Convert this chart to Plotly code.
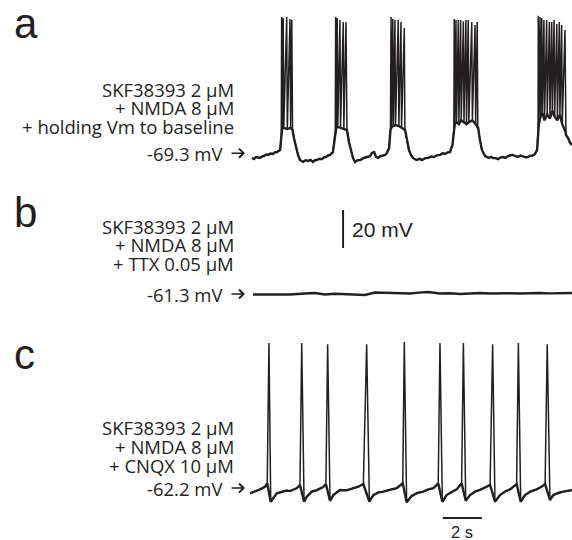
import plotly.graph_objects as go

# ---------------- data (time in s, membrane potential in mV) ----------------
# Panel a: slow membrane trajectory (between / around bursts)
a_slow_t = [0.00, 0.10, 0.21, 0.31, 0.41, 0.52, 0.62, 0.72, 0.82, 0.95, 1.08, 1.18, 1.28, 1.44, 1.50,
            2.08, 2.15, 2.26, 2.36, 2.46, 2.62, 2.75, 2.87, 3.00, 3.13, 3.23, 3.33, 3.46, 3.59, 3.69, 3.79, 3.90, 4.00, 4.15, 4.23, 4.27,
            4.87, 4.97, 5.08, 5.18, 5.28, 5.41, 5.54, 5.64, 5.74, 5.90, 6.05, 6.15, 6.26, 6.36, 6.46, 6.56, 6.67, 6.82, 6.92, 7.03, 7.10,
            7.85, 7.95, 8.05, 8.15, 8.26, 8.36, 8.46, 8.59, 8.72, 8.87, 9.03, 9.18, 9.33, 9.49, 9.64, 9.77, 9.90, 10.03, 10.15, 10.28, 10.35,
            11.59, 11.69, 11.79, 11.95, 12.05, 12.15, 12.26, 12.36, 12.49, 12.62, 12.74, 12.87, 13.00, 13.13, 13.26, 13.38, 13.51, 13.64,
            13.77, 13.90, 14.03, 14.15, 14.26, 14.36, 14.51, 14.62, 14.67,
            16.10, 16.21, 16.31, 16.41]
a_slow_v = [-69.8, -70.4, -69.3, -69.6, -69.8, -69.0, -68.8, -68.0, -68.2, -67.5, -67.7, -66.8, -66.7, -65.6, -60.4,
            -55.1, -59.3, -64.6, -68.2, -70.9, -71.9, -71.0, -71.4, -70.8, -71.9, -71.0, -70.9, -70.2, -70.4, -69.5, -69.3, -68.6, -68.2, -66.7, -60.4, -55.1,
            -55.1, -61.4, -66.7, -69.8, -71.9, -71.0, -70.9, -70.2, -69.8, -69.3, -68.8, -67.2, -66.7, -69.3, -69.8, -69.0, -68.8, -68.2, -67.2, -64.6, -55.1,
            -55.1, -60.4, -65.6, -68.2, -69.8, -70.5, -70.9, -70.2, -70.9, -70.0, -69.8, -69.0, -69.3, -68.4, -68.2, -67.4, -67.7, -66.9, -66.7, -63.0, -55.1,
            -53.5, -60.4, -65.6, -68.8, -69.4, -69.8, -69.2, -69.8, -69.9, -70.4, -69.6, -69.3, -69.8, -68.8, -68.4, -68.2, -68.9, -69.3,
            -68.5, -68.8, -69.5, -69.3, -68.6, -68.8, -67.7, -65.6, -55.1,
            -57.7, -59.3, -61.9, -63.0]
# Panel a: action potentials riding on the plateaus
a_spike_t = [1.52, 1.60, 1.78, 1.95, 2.04,
             4.29, 4.37, 4.51, 4.68, 4.82,
             7.13, 7.22, 7.33, 7.50, 7.64, 7.81,
             10.37, 10.46, 10.58, 10.70, 10.84, 10.97, 11.09, 11.27, 11.44, 11.55,
             14.68, 14.77, 14.86, 14.97, 15.11, 15.25, 15.37, 15.49, 15.63, 15.76, 15.88, 16.05]
a_spike_peak = [4.4, 3.9, 4.4, 3.3, 2.8,
                4.4, 3.9, 2.8, 1.7, 1.7,
                4.4, 3.3, 2.8, 2.8, 1.7, -1.4,
                3.3, 2.8, 2.8, 2.8, 2.2, 2.8, 2.8, 1.7, 0.2, 1.7,
                5.0, 4.4, 3.9, 2.8, 2.8, 1.7, 1.7, 2.8, 0.7, 1.7, 0.2, -2.5]
a_spike_trough = [-54.0, -54.0, -54.5, -54.0, -55.0,
                  -54.0, -53.5, -54.0, -54.5, -55.0,
                  -53.5, -53.0, -52.5, -53.0, -54.0, -55.0,
                  -52.0, -51.0, -52.0, -50.0, -51.0, -52.0, -51.0, -50.0, -52.0, -54.0,
                  -52.0, -48.0, -46.0, -50.0, -47.0, -49.0, -45.0, -48.0, -50.0, -47.0, -52.0, -56.0]

# Panel b: flat trace in TTX
b_t = [0.05, 0.51, 0.92, 1.44, 1.95, 2.33, 2.72, 3.23, 3.74, 4.26, 4.77, 5.28, 5.79, 6.31, 6.69, 7.08,
       7.59, 8.10, 8.56, 9.03, 9.64, 10.15, 10.67, 11.18, 11.69, 12.21, 12.72, 13.23, 13.74, 14.26,
       14.77, 15.28, 15.79, 16.41]
b_v = [-61.56, -61.70, -61.83, -61.60, -61.56, -61.20, -61.04, -60.77, -61.56, -61.20, -61.30, -61.60, -61.83, -60.51, -60.70, -60.51,
       -60.90, -61.04, -60.60, -60.25, -61.04, -60.90, -61.30, -60.90, -60.77, -61.00, -60.77, -60.90, -61.04, -60.80,
       -60.77, -60.95, -61.04, -60.77]

# Panel c: slow trajectory (ramps and AHPs) + single spikes in CNQX
c_slow_t = [-0.10, 0.15, 0.41, 0.67, 0.78,
            0.96, 1.09, 1.27, 1.44, 1.61, 1.78, 1.95, 2.12, 2.29, 2.46,
            2.67, 2.81, 3.06, 3.28, 3.49, 3.65, 3.79,
            4.00, 4.17, 4.51, 4.85, 5.19, 5.45, 5.71,
            6.02, 6.22, 6.48, 6.73, 7.08, 7.42, 7.73,
            7.93, 8.19, 8.48, 8.78, 9.04, 9.30, 9.55,
            9.76, 9.98, 10.24, 10.50, 10.75,
            10.96, 11.18, 11.44, 11.69, 11.95, 12.21,
            12.46, 12.72, 12.98, 13.23, 13.57,
            13.78, 14.00, 14.30, 14.60, 14.82, 15.03,
            15.28, 15.45, 15.70, 15.96, 16.20, 16.46]
c_slow_v = [-64.5, -63.6, -62.4, -61.0, -59.2,
            -68.9, -67.1, -64.5, -64.0, -63.6, -63.0, -63.3, -62.5, -61.8, -60.1,
            -68.9, -66.3, -63.6, -63.0, -61.8, -61.2, -59.6,
            -68.4, -65.4, -62.7, -62.9, -61.8, -61.0, -59.6,
            -68.9, -65.4, -64.0, -63.6, -62.5, -61.8, -59.2,
            -69.2, -65.9, -64.3, -63.6, -62.4, -61.8, -59.2,
            -68.9, -65.4, -63.8, -62.4, -59.2,
            -68.4, -65.4, -63.6, -62.7, -61.6, -60.1,
            -68.9, -65.4, -63.5, -62.4, -59.6,
            -68.9, -65.4, -63.4, -62.4, -61.2, -59.6,
            -68.0, -65.4, -64.3, -63.6, -63.0, -62.7]
c_spike_t = [0.87, 2.55, 3.88, 5.88, 7.81, 9.64, 10.84, 12.34, 13.66, 15.14]
c_spike_peak = [14.6, 14.6, 14.0, 14.0, 15.2, 14.6, 14.6, 14.0, 14.6, 14.0]

labels_a = ["SKF38393 2 \u03bcM", "+ NMDA 8 \u03bcM", "+ holding Vm to baseline"]
labels_b = ["SKF38393 2 \u03bcM", "+ NMDA 8 \u03bcM", "+ TTX 0.05 \u03bcM"]
labels_c = ["SKF38393 2 \u03bcM", "+ NMDA 8 \u03bcM", "+ CNQX 10 \u03bcM"]
baseline_labels = ["-69.3 mV", "-61.3 mV", "-62.2 mV"]
baseline_values = [-69.3, -61.3, -62.2]

# ---------------- build traces ----------------
def merge(points):
    points = sorted(points, key=lambda p: p[0])
    return [p[0] for p in points], [p[1] for p in points]

slow_a = list(zip(a_slow_t, a_slow_v))
full_a = list(slow_a)
plateau_a = list(slow_a)
for t, pk, tr in zip(a_spike_t, a_spike_peak, a_spike_trough):
    full_a.append((t, pk))
    full_a.append((t + 0.03, tr))
    plateau_a.append((t + 0.03, tr))
ax_full, ay_full = merge(full_a)
ax_slow, ay_slow = merge(plateau_a)

full_c = list(zip(c_slow_t, c_slow_v)) + list(zip(c_spike_t, c_spike_peak))
cx_full, cy_full = merge(full_c)
cx_slow, cy_slow = merge(list(zip(c_slow_t, c_slow_v)))

W, H = 572, 540
PX_PER_S = 19.5
PX_PER_MV = 1.9
X0_PX = 252  # t = 0
ref_px = [157, 294, 489]  # pixel rows of the baseline values

def yrange(i):
    v = baseline_values[i]
    p = ref_px[i]
    return [v - (H - p) / PX_PER_MV, v + p / PX_PER_MV]

col = "#231f20"
fig = go.Figure()
fig.add_trace(go.Scatter(x=ax_full, y=ay_full, mode="lines", line=dict(color=col, width=1.5), yaxis="y"))
fig.add_trace(go.Scatter(x=ax_slow, y=ay_slow, mode="lines", line=dict(color=col, width=2.4), yaxis="y"))
fig.add_trace(go.Scatter(x=b_t, y=b_v, mode="lines", line=dict(color=col, width=2.4), yaxis="y2"))
fig.add_trace(go.Scatter(x=cx_full, y=cy_full, mode="lines", line=dict(color=col, width=1.5), yaxis="y3"))
fig.add_trace(go.Scatter(x=cx_slow, y=cy_slow, mode="lines", line=dict(color=col, width=2.4), yaxis="y3"))

xr = [-X0_PX / PX_PER_S, (W - X0_PX) / PX_PER_S]
ax_common = dict(visible=False, showgrid=False, zeroline=False, fixedrange=True)
fig.update_layout(
    width=W, height=H, margin=dict(l=0, r=0, t=0, b=0),
    paper_bgcolor="white", plot_bgcolor="white", showlegend=False,
    xaxis=dict(range=xr, domain=[0, 1], **ax_common),
    yaxis=dict(range=yrange(0), domain=[0, 1], **ax_common),
    yaxis2=dict(range=yrange(1), domain=[0, 1], overlaying="y", **ax_common),
    yaxis3=dict(range=yrange(2), domain=[0, 1], overlaying="y", **ax_common),
)

def px2x(px):
    return px / W

def py2y(py):
    return 1 - py / H

anns = []
# panel letters
for letter, py in [("a", 23, ), ("b", 213), ("c", 354)]:
    anns.append(dict(text=letter, x=px2x(12), y=py2y(py), xref="paper", yref="paper",
                     xanchor="left", yanchor="middle", showarrow=False,
                     font=dict(family="Liberation Sans, Arial", size=42, color=col)))
label_font = dict(family="Open Sans", size=18.5, color=col)
rows = [[90, 108, 127], [226, 244, 263], [427, 446, 465]]
for labels, ys in zip([labels_a, labels_b, labels_c], rows):
    for txt, py in zip(labels, ys):
        anns.append(dict(text=txt, x=px2x(236), y=py2y(py), xref="paper", yref="paper",
                         xanchor="right", yanchor="middle", showarrow=False, font=label_font))
# baseline value labels with arrows, at the baseline of each trace
yrefs = ["y", "y2", "y3"]
offsets = [2.0, 0.0, 0.5]
for i in range(3):
    yv = baseline_values[i] + offsets[i]
    anns.append(dict(text=baseline_labels[i], x=px2x(225), y=yv, xref="paper", yref=yrefs[i],
                     xanchor="right", yanchor="middle", showarrow=False, font=label_font))
    anns.append(dict(text="", x=px2x(245), y=yv, xref="paper", yref=yrefs[i],
                     showarrow=True, ax=-15, ay=0, arrowhead=4, arrowsize=1.1, arrowwidth=1.6,
                     arrowcolor=col))
# scale bar labels
anns.append(dict(text="20 mV", x=5.05, y=-27.6, xref="x", yref="y2", xanchor="left", yanchor="middle",
                 showarrow=False, font=dict(family="Liberation Sans, Arial", size=21, color=col)))
anns.append(dict(text="2 s", x=10.79, y=-85.0, xref="x", yref="y3", xanchor="center", yanchor="middle",
                 showarrow=False, font=dict(family="Liberation Sans, Arial", size=16.5, color=col)))
fig.update_layout(annotations=anns)

# scale bars: 20 mV (vertical) and 2 s (horizontal)
fig.add_shape(type="line", xref="x", yref="y2", x0=4.67, x1=4.67, y0=-37.1, y1=-37.1 + 20,
              line=dict(color=col, width=2))
fig.add_shape(type="line", xref="x", yref="y3", x0=9.79, x1=9.79 + 2, y0=-77.5, y1=-77.5,
              line=dict(color=col, width=2))

fig.write_html("out.html")
